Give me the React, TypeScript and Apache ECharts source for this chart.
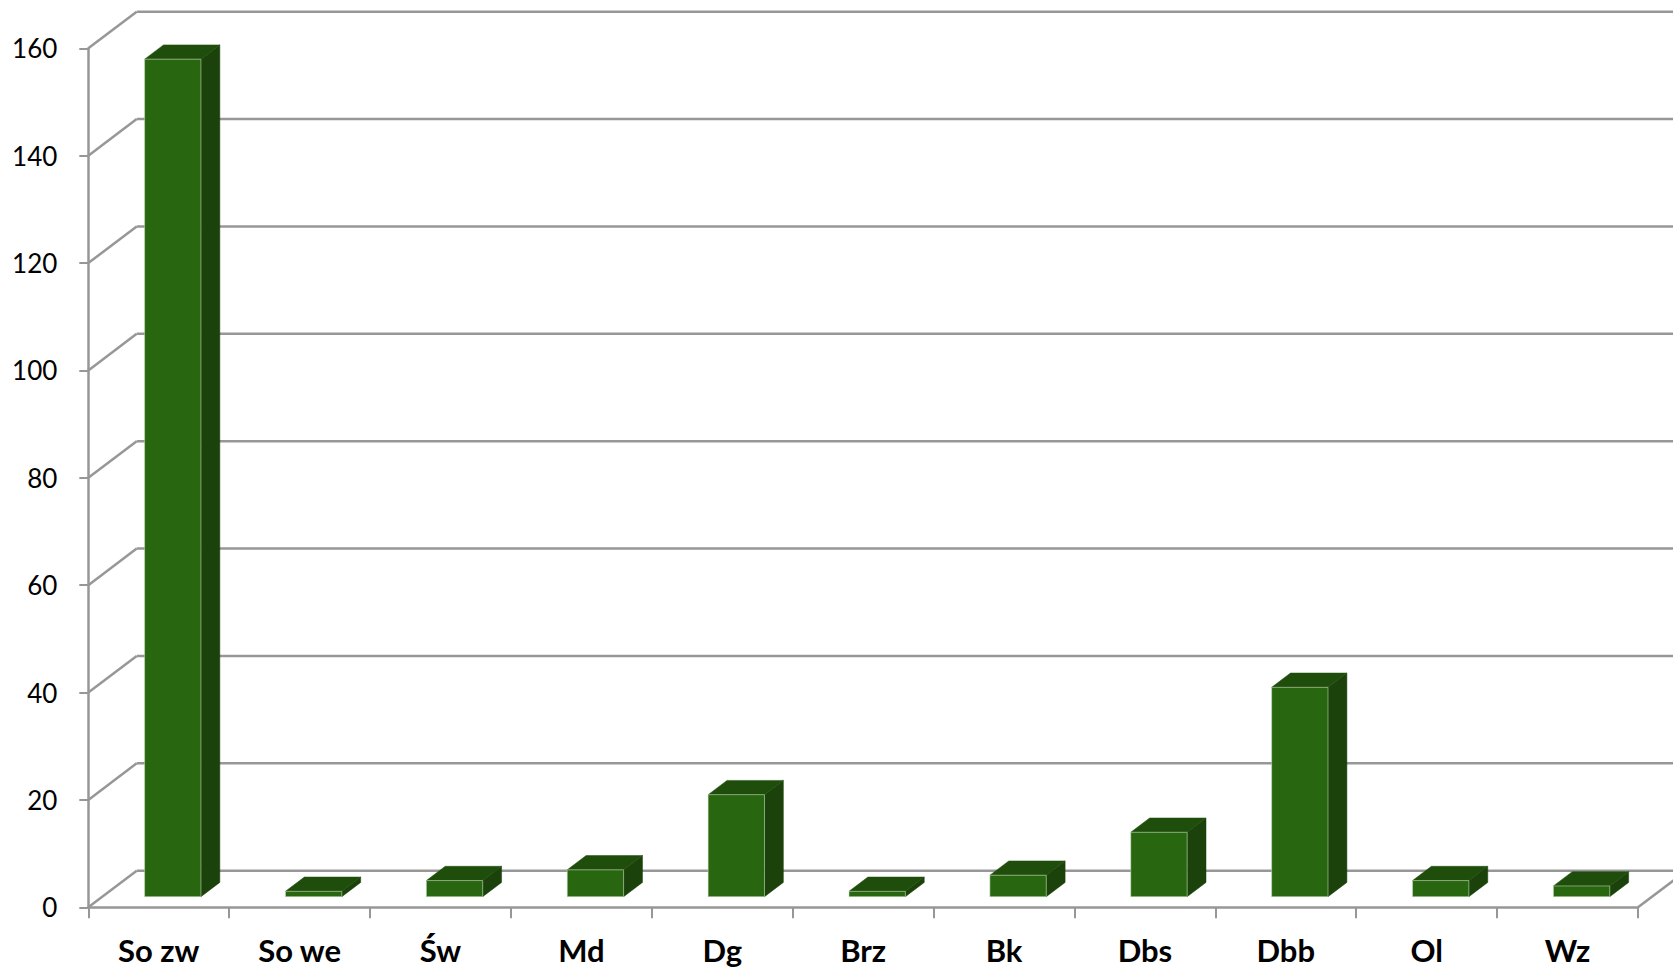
import React, { useEffect, useRef } from "react";
import * as echarts from "echarts";

const categories = ["So zw", "So we", "Św", "Md", "Dg", "Brz", "Bk", "Dbs", "Dbb", "Ol", "Wz"];
const values = [156, 1, 3, 5, 19, 1, 4, 12, 39, 3, 2];
const yTicks = [0, 20, 40, 60, 80, 100, 120, 140, 160];

const DEPTH_X = 48.4;
const DEPTH_Y = -36.6;
const GRID_COLOR = "#979797";

export default function App() {
  const ref = useRef<HTMLDivElement>(null);
  useEffect(() => {
    if (!ref.current) return;
    const chart = echarts.init(ref.current, null, { renderer: "svg" });
    const option = {
      animation: false,
      backgroundColor: "#ffffff",
      grid: { left: 88.3, top: 48.3, width: 1549.7, height: 859, containLabel: false },
      xAxis: {
        type: "category",
        data: categories,
        boundaryGap: true,
        axisLine: { show: true, lineStyle: { color: GRID_COLOR, width: 2.5 } },
        axisTick: { show: true, length: 11, lineStyle: { color: GRID_COLOR, width: 2 } },
        axisLabel: {
          margin: 28,
          fontFamily: "Lato",
          fontWeight: "bold",
          fontSize: 31,
          lineHeight: 30,
          color: "#000000",
          interval: 0,
        },
        splitLine: { show: false },
      },
      yAxis: {
        type: "value",
        min: 0,
        max: 160,
        interval: 20,
        axisLine: { show: true, lineStyle: { color: GRID_COLOR, width: 2.5 } },
        axisTick: { show: true, length: 9, lineStyle: { color: GRID_COLOR, width: 2 } },
        axisLabel: { margin: 31, fontFamily: "Lato", fontSize: 26, color: "#000000" },
        splitLine: { show: false },
      },
      series: [
        {
          type: "custom",
          name: "walls",
          z: 1,
          clip: false,
          silent: true,
          data: yTicks.map((v) => [0, v]),
          encode: { x: 0, y: 1 },
          renderItem: (params: any, api: any) => {
            const cs = params.coordSys;
            const left = cs.x;
            const right = cs.x + cs.width;
            const v = api.value(1);
            const y = api.coord([0, v])[1];
            const style = { stroke: GRID_COLOR, lineWidth: 2.5, fill: "none" };
            const children: any[] = [
              {
                type: "line",
                shape: { x1: left, y1: y, x2: left + DEPTH_X, y2: y + DEPTH_Y },
                style,
              },
              {
                type: "line",
                shape: { x1: left + DEPTH_X, y1: y + DEPTH_Y, x2: right + DEPTH_X, y2: y + DEPTH_Y },
                style,
              },
            ];
            if (v === 0) {
              children.push({
                type: "line",
                shape: { x1: right, y1: y, x2: right + DEPTH_X, y2: y + DEPTH_Y },
                style,
              });
            }
            return { type: "group", children };
          },
        },
        {
          type: "custom",
          name: "bars",
          z: 3,
          clip: false,
          data: values.map((v, i) => [i, v]),
          encode: { x: 0, y: 1 },
          renderItem: (params: any, api: any) => {
            const idx = api.value(0);
            const val = api.value(1);
            const base = api.coord([idx, 0]);
            const top = api.coord([idx, val]);
            const catW = api.size([1, 0])[0];
            const w = catW * 0.4;
            const f0 = 0.29;
            const fd = 0.39;
            const ox = DEPTH_X * f0;
            const oy = DEPTH_Y * f0;
            const ddx = DEPTH_X * fd;
            const ddy = DEPTH_Y * fd;
            const xl = base[0] + ox - w / 2;
            const xr = xl + w;
            const yb = base[1] + oy;
            const yt = top[1] + oy;
            const edge = "rgba(200,220,190,0.55)";
            return {
              type: "group",
              children: [
                {
                  type: "polygon",
                  shape: {
                    points: [
                      [xr, yt],
                      [xr + ddx, yt + ddy],
                      [xr + ddx, yb + ddy],
                      [xr, yb],
                    ],
                  },
                  style: { fill: "#1a420a", stroke: "#1a420a", lineWidth: 0.5 },
                },
                {
                  type: "polygon",
                  shape: {
                    points: [
                      [xl, yt],
                      [xl + ddx, yt + ddy],
                      [xr + ddx, yt + ddy],
                      [xr, yt],
                    ],
                  },
                  style: { fill: "#1f4d0b", stroke: "#1f4d0b", lineWidth: 0.5 },
                },
                {
                  type: "rect",
                  shape: { x: xl, y: yt, width: w, height: yb - yt },
                  style: { fill: "#286610", stroke: edge, lineWidth: 1 },
                },
              ],
            };
          },
        },
      ],
    };
    chart.setOption(option as any);
    return () => chart.dispose();
  }, []);
  return (
    <div
      ref={ref}
      style={{ position: "absolute", left: 0, top: 0, width: 1673, height: 973, background: "#fff" }}
    />
  );
}
